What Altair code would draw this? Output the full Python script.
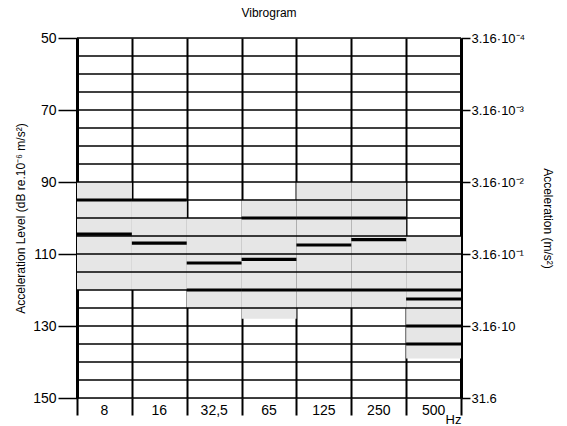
import altair as alt
import pandas as pd

# ---- data ----
columns = ["8", "16", "32,5", "65", "125", "250", "500"]
band_low = [90, 95, 100, 95, 90, 90, 105]
band_high = [120, 120, 125, 128, 125, 125, 139]
thick_col = [0, 0, 1, 1, 2, 2, 3, 3, 3, 4, 4, 4, 5, 5, 5, 6, 6, 6, 6]
thick_level = [95, 104.5, 95, 107, 112.5, 120, 100, 111.5, 120, 100, 107.5, 120,
               100, 106, 120, 120, 122.5, 130, 135]
grid_levels = [50, 55, 60, 65, 70, 75, 80, 85, 90, 95, 100, 105, 110, 115, 120,
               125, 130, 135, 140, 145, 150]
left_ticks = [50, 70, 90, 110, 130, 150]
right_labels = ["3.16·10⁻⁴", "3.16·10⁻³", "3.16·10⁻²", "3.16·10⁻¹", "3.16·10", "31.6"]

FONT = "Liberation Sans"
n = len(columns)

bands = pd.DataFrame({
    "x0": list(range(n)),
    "x1": [i + 1 for i in range(n)],
    "lo": band_low,
    "hi": band_high,
})
thick = pd.DataFrame({
    "x0": thick_col,
    "x1": [c + 1 for c in thick_col],
    "level": thick_level,
})
grid = pd.DataFrame({"level": grid_levels})

yscale = alt.Scale(domain=[50, 150], reverse=True, nice=False, zero=False)
xscale = alt.Scale(domain=[0, n], nice=False, zero=False)

col_js = "[" + ",".join("'" + c + "'" for c in columns) + ",'']"
xaxis = alt.Axis(
    values=list(range(n + 1)), grid=True, gridColor="black", gridWidth=2,
    gridOpacity=1, ticks=True, tickSize=17, tickWidth=2, tickColor="black",
    domain=False, labelExpr=col_js + "[datum.value]", labelOffset=27,
    labelPadding=-12, labelFlush=False, labelFont=FONT, labelFontSize=14,
    labelColor="black", title="Hz", titleFont=FONT, titleFontSize=13,
    titleFontWeight="normal", titleColor="black", titleX=376, titleY=15,
    titleBaseline="top", titleAlign="center",
)

left_axis = alt.Axis(
    orient="left", values=left_ticks, grid=False, tickSize=19, tickWidth=1.5,
    tickColor="black", domain=True, domainColor="black", domainWidth=3,
    labelFont=FONT, labelFontSize=14, labelColor="black", labelPadding=2,
    title="Acceleration Level (dB re.10⁻⁶ m/s²)", titleFont=FONT,
    titleFontSize=12, titleFontWeight="normal", titleColor="black",
    titlePadding=5,
)

rmap = "{" + ",".join("'%d':'%s'" % (v, l) for v, l in zip(left_ticks, right_labels)) + "}"
right_axis = alt.Axis(
    orient="right", values=left_ticks, grid=False, tickSize=9, tickWidth=1.5,
    tickColor="black", domain=True, domainColor="black", domainWidth=3,
    labelFont=FONT, labelFontSize=13, labelColor="black", labelPadding=1,
    labelExpr=rmap + "[datum.value]",
    title="Acceleration (m/s²)", titleFont=FONT, titleFontSize=12,
    titleFontWeight="normal", titleColor="black", titlePadding=16,
)

band_layer = alt.Chart(bands).mark_rect(color="#e6e6e6").encode(
    x=alt.X("x0:Q", scale=xscale, axis=xaxis),
    x2="x1:Q",
    y=alt.Y("lo:Q", scale=yscale, axis=left_axis),
    y2="hi:Q",
)

grid_layer = alt.Chart(grid).mark_rule(color="black", strokeWidth=1.6).encode(
    y=alt.Y("level:Q", scale=yscale, axis=right_axis),
)

thick_layer = alt.Chart(thick).mark_rule(color="black", strokeWidth=3.2).encode(
    x=alt.X("x0:Q", scale=xscale, axis=xaxis),
    x2="x1:Q",
    y=alt.Y("level:Q", scale=yscale, axis=None),
)

chart = alt.layer(band_layer, grid_layer, thick_layer).resolve_axis(
    y="independent"
).properties(
    width=384,
    height=360,
    autosize=alt.AutoSizeParams(type="none"),
    padding={"left": 77, "top": 38, "right": 106, "bottom": 28},
    title=alt.TitleParams("Vibrogram", font=FONT, fontSize=12,
                          fontWeight="normal", color="black", offset=11),
).configure_view(stroke=None).configure(background="white")

chart.save("out.html", embed_options={"renderer": "svg", "actions": False})
